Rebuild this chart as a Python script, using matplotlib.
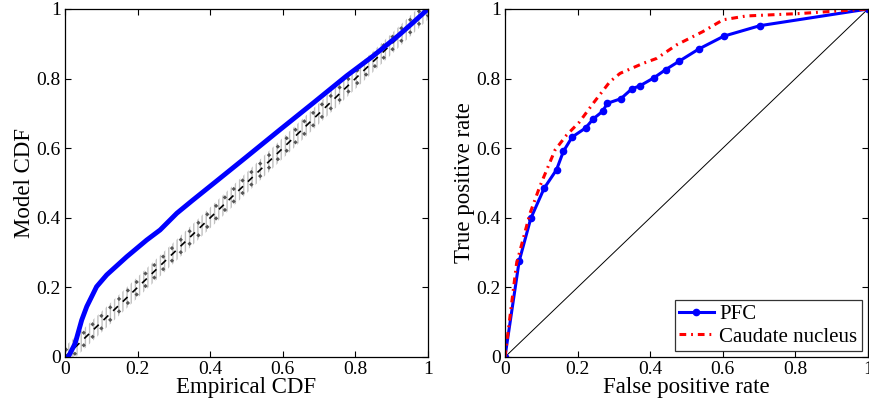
import numpy as np
import matplotlib
matplotlib.use("Agg")
import matplotlib.pyplot as plt

plt.rcParams['font.family'] = ['Liberation Serif', 'DejaVu Serif']
plt.rcParams['mathtext.fontset'] = 'stix'

# Left panel: KS plot
emp_cdf = [0.0, 0.009, 0.028, 0.046, 0.06, 0.087, 0.115, 0.17, 0.225, 0.262, 0.308,
           0.35, 0.418, 0.5, 0.592, 0.684, 0.776, 0.849, 0.92, 0.96, 1.0]
model_cdf = [0.0, 0.0, 0.039, 0.106, 0.145, 0.202, 0.236, 0.288, 0.336, 0.365, 0.413,
             0.449, 0.506, 0.575, 0.653, 0.730, 0.808, 0.865, 0.925, 0.962, 1.0]
diag = [0.0, 1.0]
band_inner = 0.018
band_outer = 0.03

# Right panel: ROC curves
pfc_fpr = [0.0, 0.039, 0.071, 0.108, 0.142, 0.161, 0.185, 0.222, 0.243, 0.269, 0.282,
           0.319, 0.349, 0.373, 0.41, 0.443, 0.48, 0.534, 0.603, 0.702, 1.0]
pfc_tpr = [0.0, 0.275, 0.398, 0.485, 0.538, 0.591, 0.632, 0.658, 0.684, 0.706, 0.729,
           0.742, 0.770, 0.780, 0.802, 0.826, 0.850, 0.885, 0.922, 0.952, 1.0]
cau_fpr = [0.0, 0.032, 0.069, 0.096, 0.138, 0.17, 0.205, 0.243, 0.289, 0.317, 0.381,
           0.418, 0.473, 0.545, 0.601, 0.665, 0.812, 1.0]
cau_tpr = [0.0, 0.269, 0.413, 0.49, 0.595, 0.638, 0.675, 0.729, 0.791, 0.815, 0.844,
           0.858, 0.897, 0.935, 0.969, 0.98, 0.987, 1.0]

ticks = [0, 0.2, 0.4, 0.6, 0.8, 1]
tick_labels = ['0', '0.2', '0.4', '0.6', '0.8', '1']

fig = plt.figure(figsize=(8.69, 4.07), dpi=100)
ax1 = fig.add_axes([0.0748, 0.1229, 0.4177, 0.855])
ax2 = fig.add_axes([0.5811, 0.1229, 0.4177, 0.855])

def style(ax, xlabel, ylabel):
    ax.set_xlim(0, 1)
    ax.set_ylim(0, 1)
    ax.set_xticks(ticks)
    ax.set_yticks(ticks)
    ax.set_xticklabels(tick_labels)
    ax.set_yticklabels(tick_labels)
    ax.tick_params(direction='in', top=True, right=True, labelsize=14, length=4, width=0.8, pad=3)
    ax.set_xlabel(xlabel, fontsize=16.5, labelpad=-1)
    ax.set_ylabel(ylabel, fontsize=16.5, labelpad=1)
    for s in ax.spines.values():
        s.set_linewidth(0.9)

# Left
x = np.array(diag)
ax1.fill_between(x, x - band_outer, x + band_outer, facecolor='none', edgecolor='#c0c0c0',
                 hatch='||||', linewidth=0)
ax1.plot(x, x + band_inner, color='#555555', linestyle=(0, (1, 3)), linewidth=2.2)
ax1.plot(x, x - band_inner, color='#555555', linestyle=(0, (1, 3)), linewidth=2.2)
ax1.plot(x, x, color='black', linestyle=(0, (4, 4)), linewidth=1.2)
ax1.plot(emp_cdf, model_cdf, color='#0000ff', linewidth=3.5, solid_capstyle='round',
         solid_joinstyle='round')
style(ax1, 'Empirical CDF', 'Model CDF')

# Right
ax2.plot(diag, diag, color='black', linewidth=0.7)
ax2.plot(pfc_fpr, pfc_tpr, color='#0000ff', linewidth=2.2, marker='o', markersize=4.5,
         label='PFC')
ax2.plot(cau_fpr, cau_tpr, color='#ff0000', linewidth=2.2, linestyle=(0, (2.2, 1.6, 0.6, 1.6)),
         label='Caudate nucleus')
style(ax2, 'False positive rate', 'True positive rate')
leg = ax2.legend(loc='lower right', fontsize=15, frameon=True, fancybox=False,
                 edgecolor='black', borderpad=0.2, handlelength=1.7, handletextpad=0.25,
                 labelspacing=0.15, borderaxespad=0.3)
leg.get_frame().set_linewidth(0.9)

fig.savefig('out.png', dpi=100)
